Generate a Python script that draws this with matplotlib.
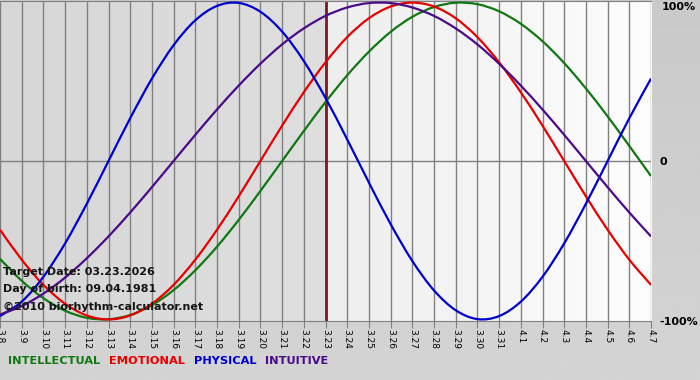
import numpy as np
import matplotlib
matplotlib.use("Agg")
import matplotlib.pyplot as plt
from matplotlib.path import Path
from matplotlib.patches import PathPatch

# day labels, 3.8 .. 4.7
days = ["3.8", "3.9"] + ["3.%d" % d for d in range(10, 32)] + ["4.%d" % d for d in range(1, 8)]
target_idx = 15  # 3.23

# values (fraction of 100%)
physical = [-0.979, -0.888, -0.731, -0.520, -0.270, 0.0, 0.270, 0.520, 0.731, 0.888, 0.979,
            0.998, 0.942, 0.817, 0.631, 0.398, 0.136, -0.136, -0.398, -0.631, -0.817, -0.942,
            -0.998, -0.979, -0.888, -0.731, -0.520, -0.270, 0.0, 0.270, 0.520]
emotional = [-0.434, -0.623, -0.782, -0.901, -0.975, -1.0, -0.975, -0.901, -0.782, -0.623, -0.434,
             -0.223, 0.0, 0.223, 0.434, 0.623, 0.782, 0.901, 0.975, 1.0, 0.975, 0.901,
             0.782, 0.623, 0.434, 0.223, 0.0, -0.223, -0.434, -0.623, -0.782]
intellectual = [-0.618, -0.756, -0.866, -0.945, -0.990, -0.999, -0.972, -0.910, -0.815, -0.690, -0.541,
                -0.372, -0.189, 0.0, 0.189, 0.372, 0.541, 0.690, 0.815, 0.910, 0.972, 0.999,
                0.990, 0.945, 0.866, 0.756, 0.618, 0.458, 0.282, 0.095, -0.095]
intuitive = [-0.969, -0.916, -0.837, -0.736, -0.614, -0.476, -0.325, -0.165, 0.0, 0.165, 0.325,
             0.476, 0.614, 0.736, 0.837, 0.916, 0.969, 0.997, 0.997, 0.969, 0.916, 0.837,
             0.736, 0.614, 0.476, 0.325, 0.165, 0.0, -0.165, -0.325, -0.476]

series = [("INTELLECTUAL", intellectual, "#107810"),
          ("EMOTIONAL", emotional, "#e80000"),
          ("PHYSICAL", physical, "#0000cc"),
          ("INTUITIVE", intuitive, "#4a0a8a")]


def smooth_path(xs, ys):
    # cubic bezier segments through the points (catmull-rom tangents)
    pts = np.column_stack([xs, ys]).astype(float)
    verts = [pts[0]]
    codes = [Path.MOVETO]
    for i in range(len(pts) - 1):
        p0 = pts[i - 1] if i > 0 else pts[i]
        p1, p2 = pts[i], pts[i + 1]
        p3 = pts[i + 2] if i + 2 < len(pts) else pts[i + 1]
        verts += [p1 + (p2 - p0) / 6, p2 - (p3 - p1) / 6, p2]
        codes += [Path.CURVE4] * 3
    return Path(verts, codes)


W, H = 700, 380
fig = plt.figure(figsize=(W / 100, H / 100), dpi=100)

# outer background gradient
bg = fig.add_axes([0, 0, 1, 1])
bg.imshow(np.linspace(0.79, 0.83, 256)[:, None], cmap="gray", vmin=0, vmax=1,
          aspect="auto", extent=[0, 1, 0, 1])
bg.set_axis_off()

ax = fig.add_axes([0, 1 - 321 / H, 651 / W, 320 / H])
x = np.arange(len(days))
n = len(days) - 1

# shaded halves: past darker, future lighter
ax.imshow(np.linspace(0.84, 0.87, 64)[None, :], cmap="gray", vmin=0, vmax=1,
          aspect="auto", extent=[0, target_idx, -1.01, 1.01], zorder=0)
ax.imshow(np.linspace(0.93, 0.99, 64)[None, :], cmap="gray", vmin=0, vmax=1,
          aspect="auto", extent=[target_idx, n, -1.01, 1.01], zorder=0)

for xi in x:
    ax.axvline(xi, color="#808080", lw=1, zorder=1)
ax.axhline(0, color="#808080", lw=1, zorder=1)
ax.axvline(target_idx, color="#7a1c1c", lw=2, zorder=2)

for name, vals, col in series:
    ax.add_patch(PathPatch(smooth_path(x, vals), facecolor="none", edgecolor=col,
                           lw=1.6, zorder=3))

ax.set_xlim(0, n)
ax.set_ylim(-1.01, 1.01)
ax.set_xticks(x)
ax.set_xticklabels(days, rotation=-90, fontsize=6.5, family="DejaVu Sans")
ax.tick_params(axis="x", length=5, color="#808080", pad=1)
ax.set_yticks([])
for s in ["left", "right"]:
    ax.spines[s].set_visible(False)
for s in ["top", "bottom"]:
    ax.spines[s].set_color("#808080")

# info text
info = ["Target Date: 03.23.2026", "Day of birth: 09.04.1981", "\u00a92010 biorhythm-calculator.net"]
for i, t in enumerate(info):
    fig.text(3 / W, 1 - (272 + i * 17.5) / H, t, fontsize=8, fontweight="bold",
             color="#151515", va="center", ha="left")

# right labels
fig.text(679 / W, 1 - 7 / H, "100%", fontsize=8, fontweight="bold", ha="center", va="center")
fig.text(663 / W, 1 - 162 / H, "0", fontsize=8, fontweight="bold", ha="center", va="center")
fig.text(679 / W, 1 - 322 / H, "-100%", fontsize=8, fontweight="bold", ha="center", va="center")

# legend words
xpos = 8
for name, vals, col in series:
    t = fig.text(xpos / W, 1 - 361 / H, name, fontsize=8.2, fontweight="bold", color=col,
                 ha="left", va="center")
    fig.canvas.draw()
    bb = t.get_window_extent()
    xpos += bb.width + 9

fig.savefig("out.png", dpi=100)
